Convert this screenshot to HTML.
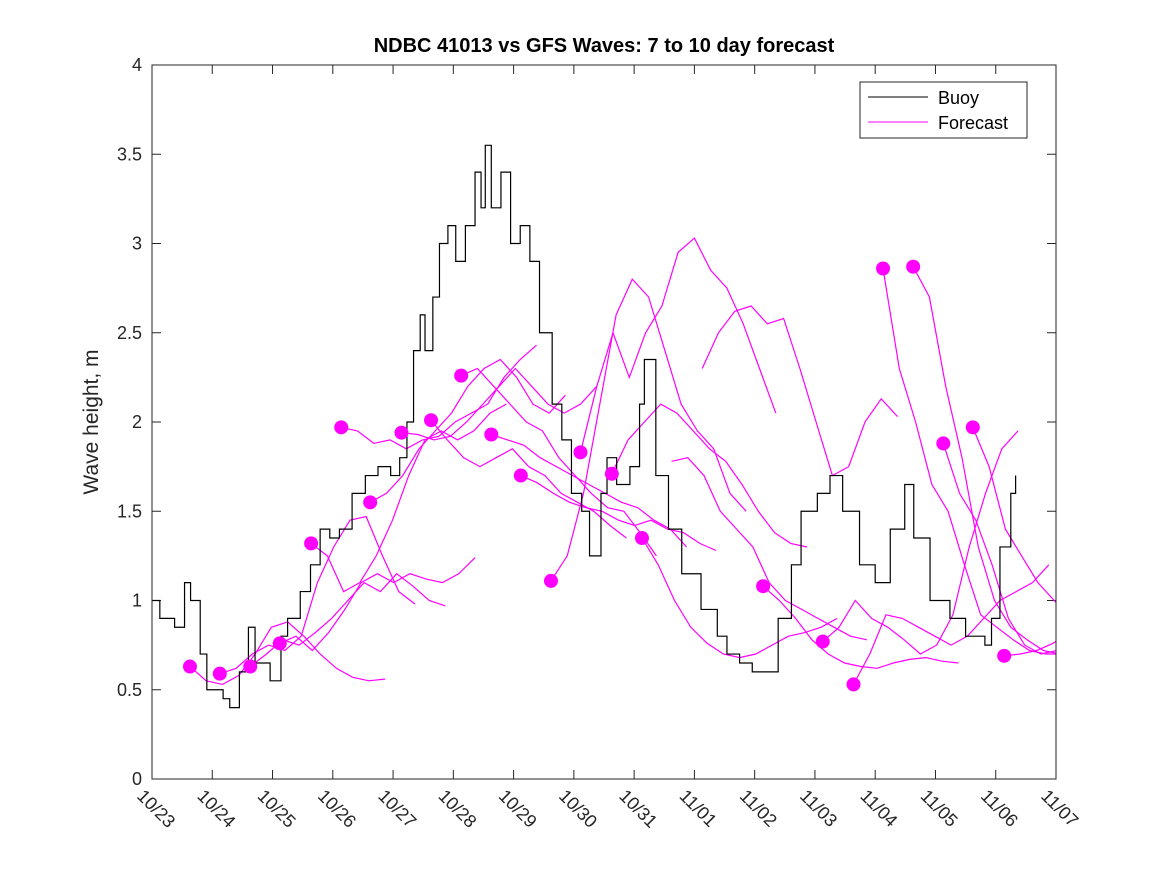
<!DOCTYPE html>
<html><head><meta charset="utf-8"><style>
body{margin:0;background:#fff;font-family:"Liberation Sans",sans-serif}
</style></head><body>
<svg id="chart" width="1167" height="875" xmlns="http://www.w3.org/2000/svg" font-family="Liberation Sans, DejaVu Sans, sans-serif"></svg>
<script>
const xLabels=["10/23","10/24","10/25","10/26","10/27","10/28","10/29","10/30","10/31","11/01","11/02","11/03","11/04","11/05","11/06","11/07"];
const yTicks=[0,0.5,1,1.5,2,2.5,3,3.5,4];
const buoyDays=[0,0.13,0.375,0.54,0.64,0.8,0.91,1.05,1.18,1.29,1.45,1.6,1.71,1.96,2.14,2.25,2.46,2.63,2.79,2.95,3.11,3.32,3.54,3.75,3.96,4.11,4.23,4.34,4.45,4.53,4.66,4.77,4.91,5.04,5.2,5.36,5.46,5.53,5.63,5.79,5.95,6.11,6.27,6.43,6.64,6.8,6.96,7.13,7.26,7.45,7.55,7.71,7.93,8.09,8.17,8.36,8.57,8.79,9.11,9.38,9.54,9.75,9.96,10.18,10.39,10.61,10.77,11.04,11.25,11.46,11.74,12.0,12.25,12.49,12.64,12.91,13.24,13.5,13.82,13.93,14.07,14.25,14.33];
const buoyVals=[1.0,0.9,0.85,1.1,1.0,0.7,0.5,0.5,0.45,0.4,0.6,0.85,0.65,0.55,0.8,0.9,1.05,1.2,1.4,1.35,1.4,1.6,1.7,1.75,1.7,1.8,2.0,2.4,2.6,2.4,2.7,3.0,3.1,2.9,3.1,3.4,3.2,3.55,3.2,3.4,3.0,3.1,2.9,2.5,2.1,1.9,1.6,1.5,1.25,1.6,1.8,1.65,1.75,2.1,2.35,1.7,1.4,1.15,0.95,0.8,0.7,0.65,0.6,0.6,0.9,1.2,1.5,1.6,1.7,1.5,1.2,1.1,1.4,1.65,1.35,1.0,0.9,0.8,0.75,0.9,1.3,1.6,1.7];
const fcStart=[0.63,1.125,1.63,2.12,2.64,3.14,3.62,4.14,4.63,5.13,5.63,6.12,6.62,7.11,7.63,8.13,8.62,9.13,10.14,11.13,11.64,12.13,12.63,13.13,13.62,14.14];
const fcDot=[1,1,1,1,1,1,1,1,1,1,1,1,1,1,1,1,0,0,1,1,1,1,1,1,1,1];
const fcStep=0.27;
const fcVals=[
[0.63,0.55,0.53,0.58,0.7,0.85,0.88,0.8,0.7,0.62,0.57,0.55,0.56],
[0.59,0.62,0.7,0.75,0.72,0.8,1.1,1.3,1.45,1.47,1.25,1.05,0.98],
[0.63,0.7,0.78,0.75,0.82,0.9,1.0,1.1,1.05,1.15,1.08,1.0,0.97],
[0.76,0.8,0.72,0.82,0.95,1.1,1.15,1.1,1.15,1.12,1.1,1.15,1.24],
[1.32,1.25,1.05,1.1,1.25,1.45,1.7,1.9,1.95,1.9,1.95,2.05,2.1],
[1.97,1.95,1.88,1.9,1.85,1.9,1.92,2.0,2.05,2.1,2.25,2.35,2.43],
[1.55,1.6,1.7,1.85,1.95,2.05,2.2,2.3,2.35,2.25,2.1,2.05,2.15],
[1.94,1.93,1.9,1.92,2.0,2.1,2.2,2.3,2.2,2.1,2.05,2.1,2.2],
[2.01,1.9,1.8,1.75,1.8,1.85,1.75,1.7,1.6,1.55,1.5,1.42,1.35],
[2.26,2.3,2.2,2.1,2.0,1.95,1.8,1.7,1.6,1.52,1.5,1.38,1.25],
[1.93,1.9,1.87,1.8,1.75,1.7,1.65,1.6,1.55,1.52,1.45,1.4,1.3],
[1.70,1.66,1.6,1.55,1.52,1.5,1.45,1.42,1.45,1.4,1.38,1.32,1.28],
[1.11,1.25,1.6,2.1,2.6,2.8,2.7,2.4,2.1,1.95,1.85,1.6,1.5],
[1.83,2.2,2.5,2.25,2.5,2.65,2.95,3.03,2.85,2.75,2.55,2.3,2.05],
[1.71,1.9,2.0,2.1,2.05,1.95,1.85,1.78,1.65,1.5,1.38,1.32,1.3],
[1.35,1.2,1.0,0.85,0.76,0.7,0.68,0.7,0.75,0.8,0.82,0.85,0.9],
[1.78,1.8,1.7,1.5,1.4,1.3,1.1,1.0,0.95,0.9,0.85,0.8,0.78],
[2.3,2.5,2.62,2.65,2.55,2.58,2.3,2.0,1.7,1.75,2.0,2.13,2.03],
[1.08,1.0,0.9,0.78,0.7,0.65,0.63,0.62,0.65,0.67,0.68,0.66,0.65],
[0.77,0.85,1.0,0.9,0.85,0.78,0.7,0.75,0.92,1.3,1.6,1.85,1.95],
[0.53,0.7,0.92,0.9,0.85,0.8,0.75,0.8,0.9,1.0,1.05,1.1,1.2],
[2.86,2.3,2.0,1.65,1.5,1.2,0.92,0.85,0.78,0.72,0.7,0.7,0.68],
[2.87,2.7,2.2,1.8,1.3,1.0,0.85,0.78,0.72,0.7,0.68,0.66,0.67],
[1.88,1.6,1.45,1.2,0.9,0.75,0.7,0.72,0.78,0.85,0.87,0.88,0.95],
[1.97,1.75,1.4,1.25,1.1,1.0,0.9,0.85,0.82,0.8,0.8,0.8,0.8],
[0.69,0.7,0.72,0.76,0.82,0.88,0.95,1.0,1.02,1.0,0.98,0.97,0.95]
];
const L=152,R=1056,T=65,B=779,NS="http://www.w3.org/2000/svg";
const xS=d=>L+(R-L)*d/15, yS=v=>B-(B-T)*v/4;
const svg=document.getElementById('chart');
function mk(tag,at,parent){const e=document.createElementNS(NS,tag);for(const k in at)e.setAttribute(k,at[k]);(parent||svg).appendChild(e);return e;}
const clip=mk('clipPath',{id:'pc'});mk('rect',{x:L,y:T,width:R-L,height:B-T},clip);
const bg=mk('rect',{x:L,y:T,width:R-L,height:B-T,fill:'#fff'});


yTicks.forEach(v=>{
 const y=yS(v);
 mk('line',{x1:L,x2:L+9,y1:y,y2:y,stroke:'#262626'});mk('line',{x1:R,x2:R-9,y1:y,y2:y,stroke:'#262626'});
 const t=mk('text',{x:L-10,y:y+6,'text-anchor':'end','font-size':18,fill:'#262626'});t.textContent=v;
 
 
});
xLabels.forEach((s,i)=>{
 const x=xS(i);
 mk('line',{x1:x,x2:x,y1:B,y2:B-9,stroke:'#262626'});mk('line',{x1:x,x2:x,y1:T,y2:T+9,stroke:'#262626'});
 const t=mk('text',{x:x-16,y:B+18,'font-size':18,fill:'#262626',transform:`rotate(45 ${x-16} ${B+18})`});t.textContent=s;
 
 
});
const g=mk('g',{'clip-path':'url(#pc)'});
fcVals.forEach((vals,i)=>{
 const pts=vals.map((v,j)=>xS(fcStart[i]+fcStep*j).toFixed(1)+','+yS(v).toFixed(1)).join(' ');
 const p=mk('polyline',{points:pts,fill:'none',stroke:'#ff00ff','stroke-width':1.2},g);
 
 
});
let d='';buoyDays.forEach((dd,i)=>{const x=xS(dd),y=yS(buoyVals[i]);if(i==0)d+=`M${x},${y}`;else d+=`H${x}V${y}`;});
const bp=mk('path',{d:d,fill:'none',stroke:'#000','stroke-width':1.2},g);


fcVals.forEach((vals,i)=>{
 if(!fcDot[i])return;
 const c=mk('circle',{cx:xS(fcStart[i]),cy:yS(vals[0]),r:7,fill:'#ff00ff'});
 
 
});
const fr=mk('rect',{x:L,y:T,width:R-L,height:B-T,fill:'none',stroke:'#262626'});


const ti=mk('text',{x:604,y:52,'text-anchor':'middle','font-size':20,'font-weight':'bold',fill:'#000'});ti.textContent='NDBC 41013 vs GFS Waves: 7 to 10 day forecast';


const yl=mk('text',{x:98,y:422,'text-anchor':'middle','font-size':21,fill:'#262626',transform:'rotate(-90 98 422)'});yl.textContent='Wave height, m';


const lg=mk('g',{});


mk('rect',{x:860,y:82,width:167,height:56,fill:'#fff',stroke:'#262626'},lg);
mk('line',{x1:868,x2:928,y1:97,y2:97,stroke:'#000'},lg);
mk('line',{x1:868,x2:928,y1:122,y2:122,stroke:'#ff00ff'},lg);
const l1=mk('text',{x:938,y:104,'font-size':18,fill:'#000'},lg);l1.textContent='Buoy';


const l2=mk('text',{x:938,y:129,'font-size':18,fill:'#000'},lg);l2.textContent='Forecast';


</script>
</body></html>
